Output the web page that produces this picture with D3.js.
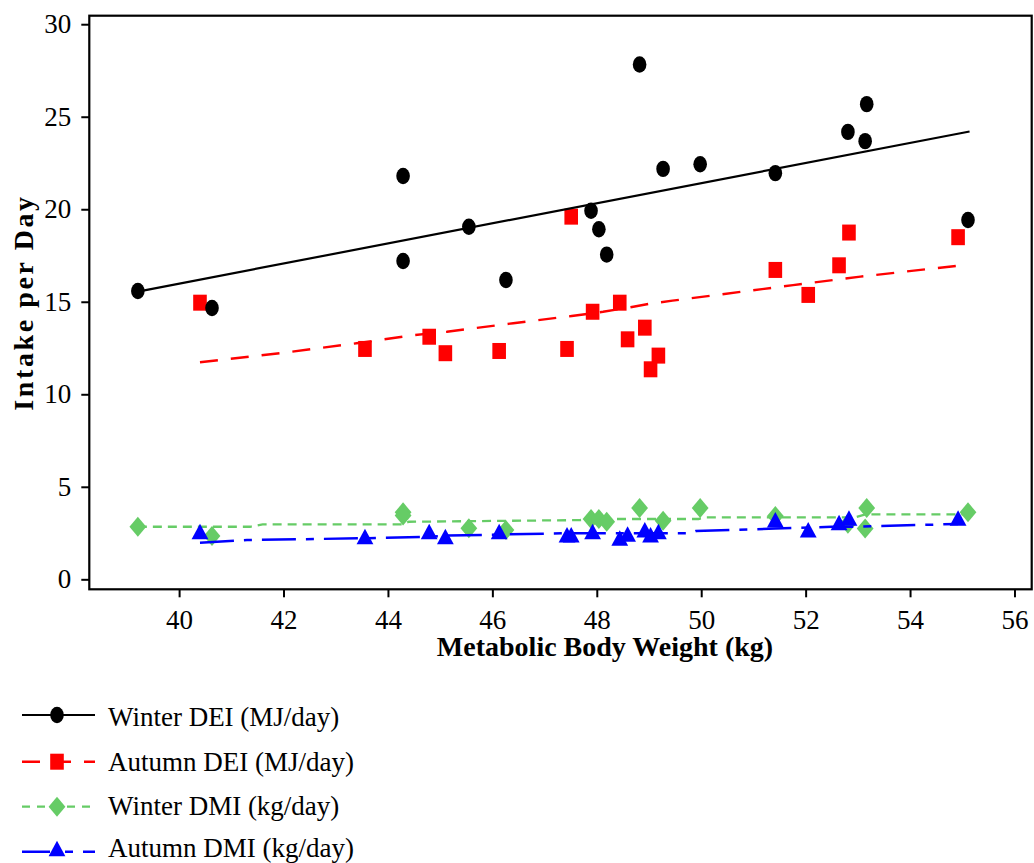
<!DOCTYPE html>
<html>
<head>
<meta charset="utf-8">
<script src="https://cdn.jsdelivr.net/npm/d3@7/dist/d3.min.js"></script>
<style>
  html, body { margin: 0; padding: 0; background: #fff; }
  svg { display: block; }
  text { font-family: "Liberation Serif", "Times New Roman", serif; fill: #000; }
</style>
</head>
<body>
<svg id="chart" width="1034" height="863"></svg>
<script>
// ---------------- DATA ----------------
const xTicks = [40, 42, 44, 46, 48, 50, 52, 54, 56];
const yTicks = [0, 5, 10, 15, 20, 25, 30];

// Winter: metabolic body weight (kg)
const winterX   = [39.21, 40.63, 44.29, 44.29, 45.55, 46.26, 47.89, 48.04, 48.19, 48.82, 49.27, 49.98, 51.42, 52.81, 53.17, 53.14, 55.11];
const winterDEI = [15.58, 14.66, 21.80, 17.20, 19.05, 16.18, 19.92, 18.92, 17.55, 27.82, 22.18, 22.43, 21.95, 24.18, 25.68, 23.68, 19.42];
const winterDMI = [2.84, 2.34, 3.62, 3.45, 2.76, 2.66, 3.26, 3.26, 3.11, 3.85, 3.17, 3.85, 3.42, 3.00, 3.85, 2.74, 3.62];

// Autumn: metabolic body weight (kg)
const autumnX   = [40.40, 43.56, 44.79, 45.10, 46.13, 47.43, 47.51, 47.92, 48.44, 48.59, 48.92, 49.03, 49.18, 51.42, 52.05, 52.64, 52.83, 54.92];
const autumnDEI = [14.95, 12.45, 13.11, 12.22, 12.34, 12.45, 19.60, 14.46, 14.95, 12.97, 13.60, 11.35, 12.09, 16.72, 15.37, 16.97, 18.74, 18.49];
const autumnDMI = [2.57, 2.30, 2.57, 2.30, 2.57, 2.39, 2.39, 2.57, 2.22, 2.43, 2.66, 2.39, 2.57, 3.20, 2.66, 3.06, 3.30, 3.30];

// Fitted lines
const winterDEIFitX = [39.21, 55.14];
const winterDEIFitY = [15.55, 24.20];
const autumnDEIFitX = [40.40, 41.93, 43.40, 44.50, 45.13, 46.40, 47.52, 48.12, 48.70, 49.03, 49.45, 51.76, 53.05, 54.92];
const autumnDEIFitY = [11.73, 12.22, 12.76, 13.20, 13.38, 13.84, 14.23, 14.46, 14.73, 14.90, 15.06, 15.90, 16.36, 16.95];
const winterDMIFitX = [39.21, 41.36, 41.60, 44.29, 44.40, 47.68, 47.90, 49.95, 50.10, 52.95, 53.15, 55.11];
const winterDMIFitY = [2.84, 2.84, 2.97, 2.97, 3.11, 3.20, 3.26, 3.26, 3.35, 3.35, 3.51, 3.51];
const autumnDMIFitX = [40.40, 41.30, 43.56, 44.79, 45.10, 47.43, 49.80, 49.90, 51.42, 52.50, 52.90, 54.92];
const autumnDMIFitY = [1.98, 2.12, 2.22, 2.30, 2.36, 2.49, 2.49, 2.61, 2.74, 2.84, 2.84, 2.99];

const seriesNames = ["Winter DEI (MJ/day)", "Autumn DEI (MJ/day)", "Winter DMI (kg/day)", "Autumn DMI (kg/day)"];

// ---------------- CHART ----------------
const svg = d3.select("#chart");
const L = 89.3, R = 1031.7, T = 15.7, B = 589.3;

const x = d3.scaleLinear().domain([38.28, 56.33]).range([L, R]);
const y = d3.scaleLinear().domain([-0.54, 30.46]).range([B, T]);

const colors = { wdei: "#000000", adei: "#ff0000", wdmi: "#66cc66", admi: "#0000ff" };

// frame
svg.append("rect").attr("x", L).attr("y", T).attr("width", R - L).attr("height", B - T)
  .attr("fill", "none").attr("stroke", "#000").attr("stroke-width", 2.2);

// axes
const yAxis = svg.append("g").attr("transform", `translate(${L},0)`)
  .call(d3.axisLeft(y).tickValues(yTicks).tickSize(8).tickPadding(10).tickFormat(d3.format("d")));
const xAxis = svg.append("g").attr("transform", `translate(0,${B})`)
  .call(d3.axisBottom(x).tickValues(xTicks).tickSize(8).tickPadding(13).tickFormat(d3.format("d")));
[yAxis, xAxis].forEach(g => {
  g.select(".domain").remove();
  g.selectAll(".tick line").attr("stroke", "#000").attr("stroke-width", 2);
  g.selectAll(".tick text").attr("font-family", "Liberation Serif, serif").attr("font-size", 27).attr("fill", "#000");
});

// axis titles
svg.append("text").attr("x", 605).attr("y", 656).attr("text-anchor", "middle")
  .attr("font-size", 28).attr("font-weight", "bold").text("Metabolic Body Weight (kg)");
svg.append("text").attr("transform", `translate(33,302.5) rotate(-90)`).attr("text-anchor", "middle")
  .attr("font-size", 28).attr("font-weight", "bold").attr("letter-spacing", 2.6).text("Intake per Day");

// line generator
const line = d3.line().x(d => x(d[0])).y(d => y(d[1]));
function fit(xs, ys) { return xs.map((v, i) => [v, ys[i]]); }

const styles = {
  wdei: { color: colors.wdei, width: 2.2, dash: null },
  adei: { color: colors.adei, width: 2.4, dash: "18,13" },
  wdmi: { color: colors.wdmi, width: 2.3, dash: "9,6" },
  admi: { color: colors.admi, width: 2.5, dash: "34,10,8,10" }
};

// marker shapes
function marker(g, type, cx, cy) {
  if (type === "wdei") {
    g.append("ellipse").attr("cx", cx).attr("cy", cy).attr("rx", 6.8).attr("ry", 8.2).attr("fill", colors.wdei);
  } else if (type === "adei") {
    g.append("rect").attr("x", cx - 6.8).attr("y", cy - 8).attr("width", 13.6).attr("height", 16).attr("fill", colors.adei);
  } else if (type === "wdmi") {
    g.append("path").attr("d", `M${cx},${cy - 10}L${cx + 8.4},${cy}L${cx},${cy + 10}L${cx - 8.4},${cy}Z`).attr("fill", colors.wdmi);
  } else {
    g.append("path").attr("d", `M${cx},${cy - 8}L${cx + 8.4},${cy + 7.5}L${cx - 8.4},${cy + 7.5}Z`).attr("fill", colors.admi);
  }
}

const plot = svg.append("g");
function drawSeries(type, xs, ys, fx, fy) {
  const s = styles[type];
  plot.append("path").datum(fit(fx, fy)).attr("d", line).attr("fill", "none")
    .attr("stroke", s.color).attr("stroke-width", s.width)
    .attr("stroke-dasharray", s.dash);
  const g = plot.append("g");
  xs.forEach((v, i) => marker(g, type, x(v), y(ys[i])));
}

drawSeries("adei", autumnX, autumnDEI, autumnDEIFitX, autumnDEIFitY);
drawSeries("wdei", winterX, winterDEI, winterDEIFitX, winterDEIFitY);
drawSeries("wdmi", winterX, winterDMI, winterDMIFitX, winterDMIFitY);
drawSeries("admi", autumnX, autumnDMI, autumnDMIFitX, autumnDMIFitY);

// legend
const legendKeys = ["wdei", "adei", "wdmi", "admi"];
const legendLineY = [715, 761.7, 806.7, 851.7];
const legendTextY = [726, 771, 815, 857];
const legendDash = { wdei: null, adei: "18,13", wdmi: "8,7", admi: "28,15,8,10" };
const lg = svg.append("g");
legendKeys.forEach((k, i) => {
  const s = styles[k];
  const cy = legendLineY[i];
  lg.append("line").attr("x1", 22).attr("x2", 95).attr("y1", cy).attr("y2", cy)
    .attr("stroke", s.color).attr("stroke-width", s.width)
    .attr("stroke-dasharray", legendDash[k]);
  marker(lg, k, 57, k === "admi" ? cy - 3 : cy);
  lg.append("text").attr("x", 108).attr("y", legendTextY[i]).attr("font-size", 27).text(seriesNames[i]);
});
</script>
</body>
</html>
